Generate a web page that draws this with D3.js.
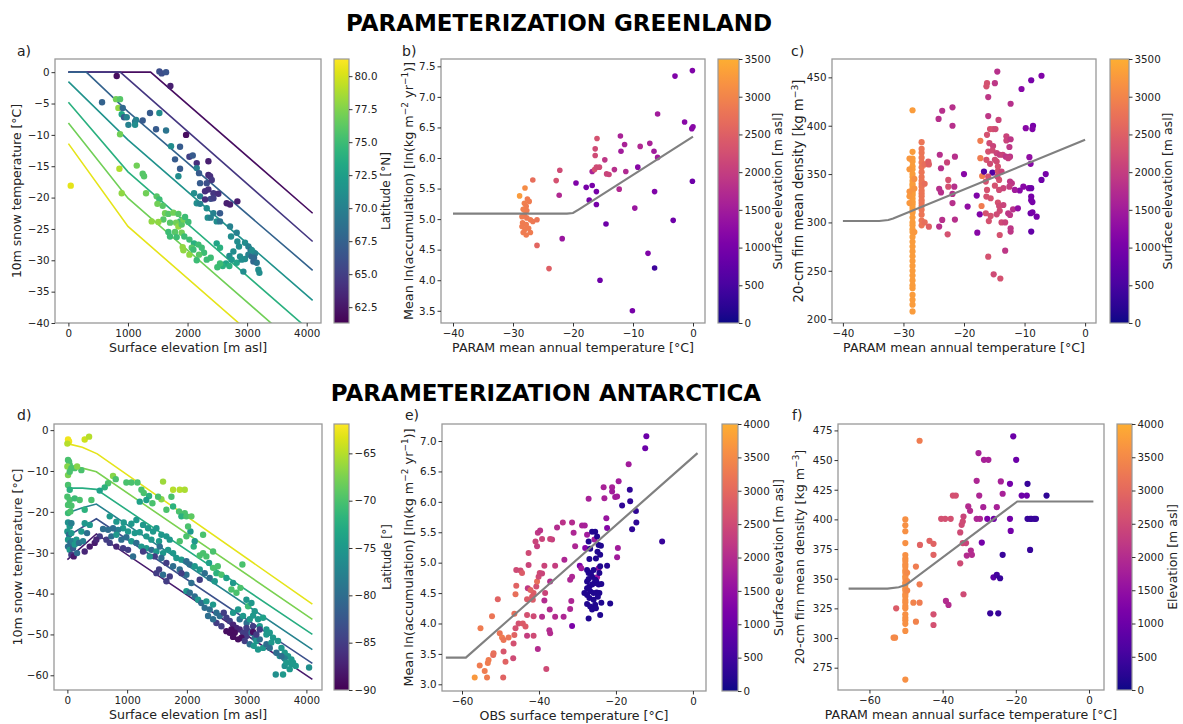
<!DOCTYPE html>
<html>
<head>
<meta charset="utf-8">
<script src="https://cdn.jsdelivr.net/npm/d3@7"></script>
<style>
body { margin: 0; background: #fff; }
text { font-family: "DejaVu Sans", sans-serif; fill: #222; }
</style>
</head>
<body>
<svg id="fig" width="1183" height="724"></svg>
<script>
// ---------- data ----------
// a) Greenland: [elevation m, 10m temperature C, latitude N]
var grTempPts = [
  [1527,0.1,66],[1566,-0.2,66],[1639,0,66.5],[1712,-2.2,63],[811,-0.6,62],
  [565,-4.8,67.5],[800,-4.3,77],[867,-4.3,76],[839,-5.7,78],[912,-5.7,68],
  [895,-6.7,73],[934,-7.2,67],[979,-7.2,70],[1007,-8.4,70],[1119,-7.9,69],[1136,-7.6,70],[1247,-7.7,67],[1119,-8.4,71],
  [867,-9.9,77],
  [1370,-6.5,67],[1527,-6.5,71],[1471,-9.1,67],[1639,-9.3,69],[1723,-11.8,71],[1874,-11.9,67],[1790,-13.9,67],[1874,-15.4,67],[1846,-16.6,71],
  [1975,-10,62],
  [2031,-13.5,65],[2087,-13.3,67],[2154,-14.5,64],[2350,-14.2,63],[2154,-15.3,70],[2193,-16.1,67],[2350,-16.4,63.5],[2378,-16.6,64],[2210,-17.7,67],[2322,-17.7,66],[2406,-17.2,64.5],
  [2109,-19.3,71],[2294,-19,64],[2350,-18.7,64],[2434,-19.3,64.5],[2517,-19.4,64],[2210,-19.8,70],[2389,-20.2,66],[2294,-20.3,64],[2154,-20.9,71],[2210,-21,70],[2434,-20.1,65],
  [2657,-20.9,63],[2713,-21.1,63],[2836,-20.6,63],
  [2322,-21.7,71],[2434,-22.5,70],[2545,-22.5,67],[2339,-23.2,71],[2389,-23.2,70],[2489,-23.8,71],[2545,-23.8,69],
  [2713,-24.6,70],[2825,-25.6,70],[2730,-26.2,71],[2836,-27,71],[2965,-27.2,71],[3021,-27.8,70],[3060,-28.4,68],[2864,-27.8,71],[2769,-28.6,71],[2702,-29.3,71],
  [2881,-29.4,71],[2965,-29.8,71],[3021,-29.1,70],[3077,-29.4,68],[3105,-30.2,68],[3161,-30.4,69],[3189,-31.5,71],[3206,-32,71],[3133,-28.9,70],[3116,-29.6,68],[3077,-28.4,71],
  [2741,-29.9,72],[2825,-30.4,73],[2909,-29.9,71],[2937,-31.8,71],[2646,-30.5,73],[2590,-30.9,74],[2545,-30.5,75],[2500,-31.1,75],[2702,-30.9,74],
  [2489,-27.3,73],[2545,-28,74],[2389,-29.6,75],[2277,-28.8,75],[2193,-29.1,76],
  [1303,-19.3,77],[1482,-19.8,76],[1527,-20.3,75],[1583,-21.3,76],[1494,-21,77],[1622,-22.5,77],[1678,-22.6,76],[1762,-22.4,77],[1846,-22.6,76],[1874,-23.8,75],
  [1807,-24,77],[1706,-24,76],[1846,-24.6,78],[1902,-24.3,76],[1930,-23.5,77],[1958,-23.1,75],[2014,-23.9,75],[1790,-25.5,76],[1902,-25.6,77],[1678,-25.5,75],
  [1946,-26.2,75],[1818,-26.3,75],[2031,-26.7,75],[2109,-27.3,74],[2182,-27.5,75],[2070,-28,76],[1918,-27.9,78],[1930,-28.4,78],[2031,-29.1,78],[2098,-28.3,75],
  [2238,-28,75],[2154,-30,75],[2322,-29.9,75],[1706,-26.2,75],[1594,-23.5,76],[1398,-23.8,78],[1510,-23.9,78],
  [1147,-14.9,77],[1247,-16.2,76],[1270,-16.6,76],
  [856,-15.4,79],[895,-19.3,78],
  [39,-18.1,80.5]
];
// a) parameterisation curves, one per latitude: [elevation, temperature]
var grTempLineLats = [62, 64.5, 67.5, 71.5, 74, 77, 80.5];
var grTempLines = [
  [[0,0],[1380,0],[4100,-22.5]],
  [[0,0],[870,0],[4100,-27]],
  [[0,0],[300,0],[1000,-6.3],[4100,-31.6]],
  [[0,-1.5],[1000,-10.8],[4100,-36.4]],
  [[0,-4.8],[1000,-15.9],[4100,-41.6]],
  [[0,-8.1],[1000,-20.1],[4100,-45.8]],
  [[0,-11.4],[1000,-24.6],[4100,-50.3]]
];

// b) Greenland: [PARAM temperature C, ln(accumulation), elevation m]
var grAccPts = [
  [-28.9,5.38,3300],[-28.0,5.51,3100],[-26.7,5.64,2700],
  [-27.6,5.33,2900],[-27.3,5.29,2900],[-28.1,5.26,2950],[-27.8,5.21,2900],[-28.3,5.16,2950],[-27.7,5.14,2900],[-28.1,5.07,2900],[-28.5,5.04,2900],
  [-27.7,5.02,2850],[-27.1,4.99,2900],[-26.7,4.96,2850],[-26.0,4.99,2800],[-28.4,4.94,2900],[-27.8,4.91,2900],[-28.5,4.88,2900],[-28.0,4.83,2900],
  [-27.4,4.85,2900],[-28.3,4.78,2900],[-27.8,4.74,2900],[-27.1,4.78,2900],
  [-26.0,4.57,2600],[-24.0,4.19,2500],[-22.8,5.63,2300],[-22.2,5.80,2200],[-22.3,5.39,1700],[-21.8,4.68,1400],[-19.5,5.59,1100],
  [-17.8,5.52,1000],[-17.3,5.31,1000],[-16.8,5.55,1000],[-16.8,5.78,1600],
  [-16.3,6.04,2200],[-16.3,6.15,2200],[-16.0,6.32,2300],[-16.4,5.81,2300],[-16.1,5.85,2200],[-15.6,5.85,2200],
  [-16.1,5.45,1000],[-16.1,5.24,1000],[-15.5,4.00,900],
  [-14.7,5.97,1900],[-14.4,5.74,2100],[-14.0,5.73,2100],[-14.5,4.92,900],[-13.1,5.81,1800],[-12.3,5.49,1700],
  [-12.1,6.36,1600],[-12.0,6.11,1500],[-11.4,6.22,1600],[-11.2,5.78,1700],
  [-10.1,3.50,1000],[-9.7,5.18,1400],[-9.2,5.85,1200],[-8.8,6.19,1700],[-7.5,4.44,1100],[-7.2,6.24,1600],
  [-6.4,5.45,1100],[-6.4,4.20,400],[-6.5,6.11,1500],[-5.9,6.72,1500],[-5.9,6.01,1500],
  [-3.3,4.98,900],[-3.0,7.34,1100],[-1.4,6.59,1200],[-0.1,7.43,1100],[-0.2,6.48,1200],[0,6.51,1200],[-0.1,5.62,900]
];
var grAccLine = [[-40,5.09],[-21,5.09],[-20,5.1],[-19,5.16],[0,6.35]];

// c) Greenland: [PARAM temperature C, 20-cm density, elevation m]
var grDensPts = [
  [-28.5,416,3300],[-28.5,373,3300],[-28.5,366,3300],[-28.5,363,3300],[-28.5,358,3300],[-28.5,355,3300],[-28.5,350,3300],[-28.5,347,3300],
  [-28.5,343,3300],[-28.5,340,3300],[-28.5,338,3300],[-28.5,335,3300],[-28.5,332,3300],[-28.5,330,3300],[-28.5,328,3300],[-28.5,325,3300],
  [-28.5,322,3300],[-28.5,320,3300],[-28.5,318,3300],[-28.5,315,3300],[-28.5,312,3300],[-28.5,310,3300],[-28.5,305,3300],[-28.5,300,3300],
  [-28.5,297,3300],[-28.5,293,3300],[-28.5,290,3300],[-28.5,285,3300],[-28.5,280,3300],[-28.5,275,3300],[-28.5,270,3300],[-28.5,265,3300],
  [-28.5,260,3300],[-28.5,255,3300],[-28.5,250,3300],[-28.5,245,3300],[-28.5,240,3300],[-28.5,235,3300],[-28.5,232,3300],[-28.5,225,3300],
  [-28.5,220,3300],[-28.5,215,3300],[-28.5,208,3300],
  [-29.0,366,3250],[-29.0,355,3250],[-29.0,332,3200],[-29.0,327,3250],[-29.0,320,3250],[-28.2,345,3150],[-28.2,335,3200],[-28.2,290,3250],
  [-27,383,2800],[-27,376,2800],[-27,372,2800],[-27,367,2800],[-27,362,2800],[-27,357,2800],[-27,352,2800],[-27,347,2800],[-27,343,2800],
  [-27,340,2800],[-27,337,2800],[-27,333,2800],[-27,330,2800],[-27,327,2800],[-27,323,2800],[-27,320,2800],[-27,317,2800],[-27,313,2800],
  [-27,308,2800],[-27,302,2800],[-27,297,2800],[-26.5,360,2700],[-26.5,340,2700],[-26.5,300,2700],
  [-25.9,363,2500],[-25.8,360,2500],[-25.8,295.6,2500],
  [-24.2,407,1800],[-23.6,415.5,1800],[-24,370,1800],[-23.8,356,1800],[-24.1,334.7,1800],[-23.8,331,1800],[-24.1,295.7,1800],[-23.6,302.6,1800],
  [-22.8,362,2100],[-22.6,337,2300],[-22.6,344,2300],[-22.7,287.7,2300],
  [-21.9,419,1800],[-21.9,400,1800],[-21.5,368,1800],[-21.6,337,1800],[-21.9,329.5,1800],[-21.9,320,1800],[-21.5,303,1800],
  [-20,350,1200],[-19.4,316.4,1300],[-17.9,327.8,1100],[-17.8,289.4,1200],[-17.4,308.4,1100],
  [-17.3,384.4,2900],[-17.3,366.4,2900],[-17.1,317,2900],[-17,348,2900],[-16.7,352.6,600],[-15.3,351.6,600],[-16,347.4,2300],
  [-16.2,444,2300],[-16.3,440.7,2300],[-14.5,456,1800],[-14.9,444,1900],[-16,429.6,1900],[-16,410,1900],[-14.3,406,2100],
  [-15.7,396.5,2300],[-15.2,396.5,2300],[-14.8,396.5,2200],[-16.2,390.6,2300],[-15.8,382,2200],[-15.2,379,2100],[-16,373.3,2300],
  [-15.3,374.4,2200],[-14.6,371.6,2100],[-14.1,370,2000],[-13.6,370,2100],[-13.1,368,1900],[-12.4,368,1900],[-12.7,366.4,2000],
  [-13,389,2100],[-13,384.7,2100],[-12.3,386,1900],[-12.3,422.7,1800],[-12.5,378,1900],[-14.6,363,2200],[-16.3,364.7,2300],
  [-15.7,360.6,2200],[-14.9,364.7,2200],[-14.4,357.8,2300],[-14.4,353,2300],[-13.8,352.6,2100],[-14.2,344,2300],[-14.5,347.4,2200],
  [-16.4,342.2,2300],[-14.9,338,2300],[-14.2,333.6,2200],[-13.5,335.4,2100],[-12.4,342.3,1900],[-12.1,340.5,1900],[-12.5,337,2000],
  [-16.2,333.6,2300],[-16.3,326.7,2300],[-15.6,325,2300],[-14.4,320.5,2300],[-14.2,317,2200],[-13.5,318,2100],[-16.4,309.5,2300],
  [-15.6,306.7,2300],[-14.6,308.4,2200],[-14.1,312,2200],[-12.7,309.5,1900],[-12.4,307.7,1900],[-11.9,313.6,1800],[-15.9,301.4,2300],
  [-13.8,300,2200],[-13.2,300,2100],[-12.3,294,1900],[-12.3,290.5,1900],[-14.1,287,2300],[-16,264.6,2300],[-15.1,246.3,2200],[-14,242,2300],[-13.2,270.8,1900],
  [-10.5,438,1200],[-9.8,397.5,1200],[-8.9,447,1000],[-8.6,400,1000],[-8.7,396.5,1100],[-7.2,451.7,1100],[-9.2,367.5,1300],[-9,360.6,1200],
  [-10.2,337,1200],[-9.3,335.4,1100],[-10.8,333,1200],[-8.9,335.4,900],[-8.9,326.7,1000],[-8.9,323,1000],[-8.7,321,1000],[-11.1,314.6,1300],
  [-9,309.5,900],[-8.7,310.5,1000],[-8,306,1000],[-8.9,290.5,800],[-7.2,344,900],[-6.5,350,1000],[-11.6,333.6,1500]
];
var grDensLine = [[-40,301.5],[-34,301.5],[-32.5,302.5],[-31.7,304],[0,385.4]];

// d) Antarctica: [elevation m, 10m temperature C, latitude]
var anTempPts = [
  [11,-2.3,-62.5],[28,-2.8,-62.5],[0,-3.3,-65],[290,-2.3,-64],[363,-1.6,-65],
  [11,-7.3,-70],[28,-7.7,-70],[39,-8.5,-70],[0,-8.9,-67],[67,-9.3,-70],[11,-11,-67.5],[39,-10.2,-70],[123,-9.3,-70],[234,-9.8,-70],[162,-8.9,-67],
  [11,-13.4,-70],[39,-14.6,-72],[0,-16.3,-70],[39,-17.1,-70],[11,-18.3,-70],[67,-18.5,-70],[11,-20.3,-71],[50,-19.9,-70],
  [11,-22.6,-76],[39,-23.6,-75],[67,-22.8,-78],[0,-24.8,-75],[28,-25.6,-80],[67,-25.2,-75],[11,-26.8,-75],[50,-27.6,-80],[84,-27.2,-78],
  [11,-28.5,-80],[39,-29.3,-75],[95,-28.9,-82],[123,-28,-75],[151,-26.8,-75],[195,-27.6,-80],[262,-27.2,-78],[67,-30.5,-85],[106,-30.9,-88],
  [162,-30.1,-80],[234,-24.8,-75],[290,-22.8,-75],[374,-23.2,-75],[329,-25.2,-80],
  [123,-16.7,-71],[206,-17.1,-70],[402,-17.1,-70],[290,-19.5,-72],
  [764,-11.2,-67],[809,-12,-70],[987,-12.8,-70],[1071,-12.8,-70],[1172,-12.8,-70],[681,-13,-70],[625,-14,-72],[541,-14.8,-74],
  [1239,-14.6,-70],[1278,-15.4,-70],[1367,-16.1,-72],[1322,-17.1,-74],[1211,-17.5,-74],[1423,-17.9,-70],[1573,-16.9,-67],[1601,-12.6,-66],
  [1769,-14.6,-65],[1880,-14.6,-65],[1964,-14.6,-65.5],[1741,-16.3,-70],[1518,-16.3,-70],
  [1657,-19.5,-70],[1769,-18.7,-72],[1869,-19.9,-70],[1964,-20.3,-70],[1908,-21.1,-72],[1992,-21.1,-70],[2075,-21.1,-69],[2059,-24.8,-75],
  [2020,-23.6,-70],[1992,-26,-70],[2114,-28.5,-72],[1880,-27.2,-70],[2131,-27.2,-75],[2215,-30.7,-70],[2271,-30.1,-70],[2326,-30.9,-70],
  [2371,-32.5,-74],[2438,-33.7,-70],[2517,-33.3,-70],[2494,-35,-72],[2578,-35.4,-70],[2661,-36.2,-74],[2773,-37.4,-75],[2745,-39,-70],
  [2829,-39.8,-70],[2896,-38.6,-70],[2929,-32.9,-70],[2996,-41.5,-75],[3024,-43.1,-71],[3080,-42.3,-75],[3135,-44.3,-75],[3108,-45.4,-75],
  [3191,-46.3,-75],[3275,-45.9,-74],[3219,-48,-75],[3331,-48.8,-75],[3387,-49.6,-75],[3442,-50.8,-75],[3526,-51.6,-75],[3582,-53.3,-75],
  [3637,-54.5,-75],[3693,-55.3,-75],[3749,-56.1,-75],[3777,-56.9,-75],[3554,-55.3,-76],[3637,-57.7,-76],[3487,-59.8,-76],[3721,-58.5,-75],
  [4045,-58.1,-76],[3637,-55.9,-78],[2271,-25.6,-70],[2438,-29.7,-70],
  [709,-21.1,-75],[820,-22.4,-75],[943,-22.6,-75],[1071,-22.9,-75],[1155,-22,-75],[1267,-23.2,-75],[1350,-24,-75],[1434,-24.8,-75],
  [1490,-24,-75],[1573,-25.6,-75],[1657,-26,-75],[1713,-26.8,-75],[1534,-27.2,-75],[1406,-26.8,-75],[1322,-26,-75],[1211,-25,-75],
  [1127,-25.2,-75],[1015,-24.8,-75],[932,-24,-75],[848,-24.4,-78],[764,-24,-80],[681,-24.4,-80],[597,-24.2,-80],[653,-26.8,-85],
  [736,-26,-80],[820,-25.6,-75],[904,-26.8,-80],[987,-26.2,-80],[1071,-27.2,-75],[1155,-27.6,-80],[1239,-28.5,-75],[1322,-28.9,-75],
  [1406,-29.3,-80],[1490,-29.7,-75],[1546,-28.5,-80],[1601,-30.1,-75],[1685,-29.3,-75],[1769,-30.1,-75],[1824,-31.3,-75],[1908,-31.7,-75],
  [1992,-32.1,-80],[2048,-32.9,-80],[2131,-33.3,-75],[2215,-34.1,-75],[2298,-35,-80],[2382,-36.2,-80],[2466,-37,-75],[2215,-36.6,-85],
  [2075,-37.4,-80],[1992,-35.4,-80],[1880,-34.1,-80],[1769,-33.3,-80],[1657,-32.5,-85],[1573,-31.3,-80],[1462,-30.9,-85],[1378,-30.9,-75],
  [1267,-29.7,-85],[1099,-30.9,-80],[1015,-29.3,-85],[932,-28.9,-85],[820,-28.5,-87],[709,-27.6,-85],[541,-26,-85],[457,-27.6,-88],
  [374,-28.5,-88],[290,-29.7,-87],[485,-26.8,-87],[1534,-34.1,-85],[1490,-35,-85],[1601,-35.4,-80],[1713,-35.8,-85],[1657,-37,-85],[1908,-35,-85],
  [1992,-39.4,-75],[2048,-39.8,-80],[2131,-40.7,-80],[2187,-41.5,-75],[2243,-42.3,-80],[2326,-41.9,-75],[2298,-43.5,-80],[2382,-43.9,-80],
  [2438,-42.7,-75],[2494,-44.7,-80],[2550,-45.5,-80],[2617,-44.7,-85],[2661,-45.9,-85],[2717,-46.7,-85],[2773,-47.6,-87],[2829,-48.4,-87],
  [2884,-48.8,-87],[2940,-49.6,-85],[2996,-50.4,-85],[2801,-49.6,-89],[2717,-49.6,-89],[2773,-50.6,-89],[2857,-51.2,-89],[2912,-50.8,-89],
  [2661,-49.2,-89],[2745,-48.8,-89],[2968,-51.6,-85],[2578,-48,-85],[2494,-47.2,-85],[2438,-46.3,-80],[2354,-45.5,-80],[3024,-49.2,-85],
  [3080,-49.6,-80],[3135,-50.8,-80],[3163,-51.6,-75],[3219,-51.2,-80],[3052,-52.4,-80],[3119,-52.8,-75],[3191,-53.7,-75],[3275,-53.3,-75],
  [3331,-52.4,-80],[3219,-48.8,-85],[3108,-48,-85],[3000,-47.2,-80],[2884,-46.3,-80],[2773,-44.7,-75],[2857,-43.9,-75],[2940,-45.5,-75],
  [3052,-46.3,-75],[2996,-48.4,-85],[3108,-49.4,-89],[3163,-50,-85],[3331,-50,-75],[3414,-52,-75],[3387,-53.3,-80],[3498,-54.5,-80],
  [3582,-55.3,-80],[3665,-56.9,-75],[3749,-57.3,-75],[3822,-57.7,-75],[3609,-59.8,-75]
];
var anTempLineLats = [-63, -67.5, -72.5, -77.5, -83, -88];
var anTempLines = [
  [[0,-3.3],[250,-4.2],[500,-5.8],[4100,-42.6]],
  [[0,-8.9],[250,-9.3],[485,-10.2],[4100,-46.3]],
  [[0,-14.2],[250,-14.2],[485,-14.5],[4100,-50]],
  [[0,-20.3],[250,-19],[485,-18.1],[4100,-53.7]],
  [[0,-26],[485,-21.7],[4100,-57.1]],
  [[0,-31.7],[485,-25.4],[4100,-61]]
];

// e) Antarctica: [OBS temperature C, ln(accumulation), elevation m]
var anAccPts = [
  [-56.7,3.11,3700],[-55.4,3.31,3300],[-55.2,3.92,3300],[-54.1,3.22,3300],[-53.5,3.11,3300],[-53.3,3.35,3300],[-53.1,3.40,3300],
  [-51.9,3.48,3000],[-51.8,3.51,3100],[-52.2,4.12,3200],[-50.7,4.40,2900],[-50.2,3.84,3200],[-49.6,3.77,3300],[-49.2,3.73,3200],
  [-49.3,3.11,2900],[-49.2,3.54,2700],[-48.7,3.37,2900],[-47.9,3.77,3200],[-46.7,3.43,2500],[-46.6,3.67,2600],[-46.4,3.81,2900],
  [-46.4,4.16,3100],[-46.1,3.92,2600],[-46.1,4.48,3100],[-45.9,4.62,2900],[-45.9,4.88,2500],[-44.8,4.87,2500],[-44.4,4.83,2800],
  [-45.3,4.00,2600],[-44.2,4.00,2800],[-43.5,3.95,2800],[-43.1,4.14,2600],[-43.1,3.80,2300],[-43.1,4.40,2800],[-42.9,4.58,2200],
  [-42.7,4.96,2400],[-42.7,5.16,2500],[-41.4,3.80,2500],[-41.4,4.12,2500],[-41.6,4.39,2800],[-41.4,4.50,2800],[-41.8,4.44,2800],
  [-42.2,4.55,2900],[-40.7,4.61,2600],[-40.5,4.69,3100],[-40.1,4.77,2500],[-39.8,4.83,2500],[-39.2,4.82,2400],[-38.6,4.95,2400],
  [-40.5,5.27,2300],[-40.3,5.49,2200],[-39.7,5.53,2100],[-39.2,5.39,2400],[-40.9,5.35,2400],[-40.3,3.58,2000],[-39.2,4.11,2000],
  [-38.6,4.38,2000],[-38.4,4.50,2400],[-37.1,4.69,2000],[-37.3,3.89,2000],[-37.1,3.84,2000],[-37.2,4.23,2000],[-38.1,3.25,2500],
  [-36.6,5.38,2300],[-37.1,5.39,2400],[-35.8,4.95,2300],[-35.8,4.11,2000],[-35.3,5.58,2000],[-33.8,5.66,2100],[-33.6,4.11,1900],
  [-33.4,5.05,1900],[-31.9,4.72,1900],[-31.9,4.24,1900],[-31.6,4.37,1900],[-31.4,5.66,2000],[-31,5.49,1900],[-31.4,4.77,1900],
  [-31.4,3.96,1200],[-30.6,5.27,1900],[-29.4,4.95,1200],[-29,4.91,1700],[-28.8,5.61,1800],[-28.1,5.61,1800],[-27.5,5.46,1700],
  [-28,5.24,1300],[-27.1,6.05,1800],[-25.6,5.38,1700],[-24.9,4.76,1600],[-24.5,4.91,1500],[-23.2,6.24,1800],[-23,6.06,1800],
  [-22.5,5.73,1600],[-22.3,5.57,1300],[-21,6.24,1800],[-21,6.17,1700],[-20.2,6.08,1700],[-19.7,6.09,1700],[-19.3,6.34,1700],
  [-19.5,5.24,1700],[-19.7,5.09,1700],[-16.7,6.62,1700],[-16.4,6.2,300],[-16.3,6.01,300],[-18.4,5.94,300],[-14.8,5.85,300],
  [-14.7,5.66,300],[-15.8,5.55,300],[-12.4,6.88,1000],[-12.1,7.08,1000],[-8.0,5.35,400],
  [-27.1,5.35,150],[-26.7,5.23,150],[-26.9,5.06,150],[-27.5,4.88,150],[-27.1,4.83,150],[-26.2,4.77,150],[-27.5,4.69,150],
  [-26.9,4.61,150],[-26.2,4.64,150],[-25.6,4.66,150],[-25.1,4.69,150],[-24.5,4.64,150],[-23.8,4.65,150],[-26.7,4.53,150],
  [-25.8,4.50,150],[-25,4.51,150],[-27.5,4.47,150],[-26.9,4.42,150],[-25.8,4.39,150],[-24.7,4.44,150],[-27.5,4.32,150],
  [-26.7,4.28,150],[-25.4,4.31,150],[-26.2,4.23,150],[-25.2,4.25,150],[-27.1,4.08,150],[-24.1,4.14,150],[-23.8,4.34,150],
  [-26.2,5.51,150],[-25.4,5.51,150],[-24.9,5.43,150],[-24.5,5.29,150],[-23.9,5.28,150],[-24.8,5.18,150],[-24.1,5.13,150],
  [-25.2,5.07,150],[-24.1,4.94,150],[-22.3,4.95,200],[-21.5,4.33,150],[-25.8,4.88,150],[-26.5,4.83,150],[-25.4,4.72,150],
  [-24.3,4.83,150],[-27.1,4.73,150],[-27.5,4.58,150],[-28.2,4.50,150],[-24.3,4.50,150]
];
var anAccLine = [[-64.2,3.44],[-59,3.44],[1.2,6.8]];

// f) Antarctica: [PARAM surface temperature C, 20-cm density, elevation m]
var anDensPts = [
  [-50.2,400,3600],[-50.2,395,3600],[-50.2,390,3600],[-50.2,380,3600],[-50.2,370,3600],[-50.2,367,3600],[-50.2,365,3600],[-50.2,362,3600],
  [-50.2,360,3600],[-50.2,357,3600],[-50.2,355,3600],[-50.2,352,3600],[-50.2,350,3600],[-50.2,347,3600],[-50.2,345,3600],[-50.2,342,3600],
  [-50.2,340,3600],[-50.2,337,3600],[-50.2,335,3600],[-50.2,332,3600],[-50.2,330,3600],[-50.2,327,3600],[-50.2,325,3600],[-50.2,320,3600],
  [-50.2,317,3600],[-50.2,315,3600],[-50.2,312,3600],[-50.2,306,3600],[-50.2,265,3600],[-49.7,355,3500],[-49.7,348,3500],[-49.7,340,3500],
  [-53.4,300.3,3500],[-53,300.3,3500],[-52.7,325,2800],
  [-46.3,466.3,3300],[-46.2,378.5,2900],[-46.3,345.3,3300],[-46.3,329.8,3300],[-48,329.8,3400],[-47.3,360.2,3300],[-47.3,313.8,3400],
  [-43.6,381.9,2900],[-42.5,379.4,2900],[-42.5,370.1,2900],[-42.5,320,2600],[-42.5,311,2600],
  [-40.4,400.5,2600],[-39.3,400.5,2600],[-37.8,400.5,2600],[-37.2,420.1,2600],[-36.4,420.1,2600],[-39.1,331.3,2000],[-38.4,327.9,2000],
  [-35.2,389,2500],[-34.8,395.4,2500],[-34.3,402.4,2400],[-34.5,398.2,2500],[-35.2,363,2500],[-34.5,380,2500],[-33.6,380,2400],
  [-34.3,336.9,2500],[-33.4,369.5,2000],[-33,410.9,2000],[-32.5,407.2,2000],[-32.3,373.7,2000],[-32,370.1,2000],
  [-30.7,432.5,1900],[-30,420.1,1900],[-30.7,400.5,1900],[-29.8,400.5,1900],[-30.2,455.9,1800],[-29.3,380.5,1100],[-28.9,410.3,1800],
  [-28.7,450.2,1800],[-27.5,450.2,1800],[-27.8,400.5,1200],[-26,400.5,1100],[-25.2,410.3,1800],[-26.1,351.2,800],[-25.2,353.2,500],
  [-27,320.8,400],[-24.8,320.8,400],[-24.3,350.4,400],[-24.1,432,1800],[-23.6,421.6,1800],[-23.6,370.1,400],
  [-21.6,430,1100],[-21.6,400.5,1100],[-21.4,390.3,1100],[-20.7,470,1000],[-19.9,450.2,1000],[-18.4,420.1,1000],[-17,420.1,1000],
  [-16.8,430,400],[-16.8,400.5,400],[-16.1,400.5,400],[-15.7,400.5,400],[-15,400.5,400],[-14.5,400.5,400],[-16.1,374.3,400],[-11.6,420.1,300]
];
var anDensLine = [[-65.7,341.7],[-55.1,341.7],[-52,342.8],[-50,344.8],[-19.6,415.1],[1.2,415.1]];

// ---------- drawing ----------
var svg = d3.select('#fig');
var defs = svg.append('defs');

var viridisA = d3.scaleSequential(d3.interpolateViridis).domain([61.3, 81.3]);
var viridisD = d3.scaleSequential(d3.interpolateViridis).domain([-90, -61.9]);
function plasmaCut(t) { return d3.interpolatePlasma(t * 0.82); }
var plasma3500 = d3.scaleSequential(plasmaCut).domain([0, 3500]);
var plasma4000 = d3.scaleSequential(plasmaCut).domain([0, 4000]);

function accLabel(t) {
  t.append('tspan').text('Mean ln(accumulation) [ln(kg m');
  t.append('tspan').attr('baseline-shift', 'super').attr('font-size', '70%').text('\u22122');
  t.append('tspan').text(' yr');
  t.append('tspan').attr('baseline-shift', 'super').attr('font-size', '70%').text('\u22121');
  t.append('tspan').text(')]');
}
function densLabel(t) {
  t.append('tspan').text('20-cm firn mean density [kg m');
  t.append('tspan').attr('baseline-shift', 'super').attr('font-size', '70%').text('\u22123');
  t.append('tspan').text(']');
}

var panels = [
  { id: 'a', box: [55, 321, 59, 323], xDom: [-225, 4240], yDom: [-40, 2.1],
    xTicks: [0, 1000, 2000, 3000, 4000], yTicks: d3.range(0, -41, -5), yFmt: d3.format('d'),
    pts: grTempPts, col: viridisA, r: 3.2, lines: grTempLines, lineLats: grTempLineLats,
    xLabel: 'Surface elevation [m asl]', yLabel: '10m snow temperature [\u00b0C]', yLabX: 21, yLabSize: 12.4,
    cb: { x0: 334, x1: 349, ticks: d3.range(62.5, 80.1, 2.5), fmt: d3.format('.1f'), label: 'Latitude [\u00b0N]', labX: 390, size: 12.1 },
    tag: 'a)', tagX: 17, tagY: 56 },
  { id: 'b', box: [441, 705, 59, 323], xDom: [-42, 2], yDom: [3.30, 7.62],
    xTicks: [-40, -30, -20, -10, 0], yTicks: d3.range(3.5, 7.51, 0.5), yFmt: d3.format('.1f'),
    pts: grAccPts, col: plasma3500, r: 2.8, gray: grAccLine,
    xLabel: 'PARAM mean annual temperature [\u00b0C]', yLabel: accLabel, yLabX: 413, yLabSize: 12.8,
    cb: { x0: 718, x1: 739, ticks: d3.range(0, 3501, 500), fmt: d3.format('d'), label: 'Surface elevation [m asl]', labX: 782, size: 12.5 },
    tag: 'b)', tagX: 402, tagY: 56 },
  { id: 'c', box: [832, 1096, 59, 323], xDom: [-41.8, 1.8], yDom: [196, 469],
    xTicks: [-40, -30, -20, -10, 0], yTicks: d3.range(200, 451, 50), yFmt: d3.format('d'),
    pts: grDensPts, col: plasma3500, r: 3.1, gray: grDensLine,
    xLabel: 'PARAM mean annual temperature [\u00b0C]', yLabel: densLabel, yLabX: 803, yLabSize: 13.2,
    cb: { x0: 1110, x1: 1129, ticks: d3.range(0, 3501, 500), fmt: d3.format('d'), label: 'Surface elevation [m asl]', labX: 1172, size: 12.5 },
    tag: 'c)', tagX: 791, tagY: 56 },
  { id: 'd', box: [54, 322, 424, 690], xDom: [-224, 4261], yDom: [-63.6, 1.5],
    xTicks: [0, 1000, 2000, 3000, 4000], yTicks: d3.range(0, -61, -10), yFmt: d3.format('d'),
    pts: anTempPts, col: viridisD, r: 3.2, lines: anTempLines, lineLats: anTempLineLats,
    xLabel: 'Surface elevation [m asl]', yLabel: '10m snow temperature [\u00b0C]', yLabX: 22, yLabSize: 12.6,
    cb: { x0: 334, x1: 349, ticks: d3.range(-90, -64, 5), fmt: d3.format('d'), label: 'Latitude [\u00b0]', labX: 391, size: 11.5 },
    tag: 'd)', tagX: 17, tagY: 420 },
  { id: 'e', box: [442, 706, 424, 691], xDom: [-65.2, 3.4], yDom: [2.89, 7.28],
    xTicks: [-60, -40, -20, 0], yTicks: d3.range(3, 7.01, 0.5), yFmt: d3.format('.1f'),
    pts: anAccPts, col: plasma4000, r: 3.0, gray: anAccLine,
    xLabel: 'OBS surface temperature [\u00b0C]', yLabel: accLabel, yLabX: 413, yLabSize: 12.8,
    cb: { x0: 722, x1: 738, ticks: d3.range(0, 4001, 500), fmt: d3.format('d'), label: 'Surface elevation [m asl]', labX: 783, size: 12.5 },
    tag: 'e)', tagX: 405, tagY: 420 },
  { id: 'f', box: [838, 1104, 424, 690], xDom: [-68.6, 4.1], yDom: [256.2, 480.4],
    xTicks: [-60, -40, -20, 0], yTicks: d3.range(275, 476, 25), yFmt: d3.format('d'),
    pts: anDensPts, col: plasma4000, r: 3.1, gray: anDensLine,
    xLabel: 'PARAM mean annual surface temperature [\u00b0C]', yLabel: densLabel, yLabX: 804, yLabSize: 12.7,
    cb: { x0: 1117, x1: 1132, ticks: d3.range(0, 4001, 500), fmt: d3.format('d'), label: 'Elevation [m asl]', labX: 1177, size: 12.5 },
    tag: 'f)', tagX: 792, tagY: 420 }
];

function styleAxis(ax) {
  ax.attr('font-size', null).attr('font-family', null).attr('color', '#333');
  ax.select('.domain').remove();
  ax.selectAll('text').style('font-size', '10.3px');
}

panels.forEach(function(p) {
  var x0 = p.box[0], x1 = p.box[1], y0 = p.box[2], y1 = p.box[3];
  var x = d3.scaleLinear().domain(p.xDom).range([x0, x1]);
  var y = d3.scaleLinear().domain(p.yDom).range([y1, y0]);
  var g = svg.append('g');

  defs.append('clipPath').attr('id', 'clip-' + p.id)
    .append('rect').attr('x', x0).attr('y', y0).attr('width', x1 - x0).attr('height', y1 - y0);
  var plot = g.append('g').attr('clip-path', 'url(#clip-' + p.id + ')');
  var line = d3.line().x(function(d) { return x(d[0]); }).y(function(d) { return y(d[1]); });

  if (p.lines) {
    plot.selectAll('path.lat').data(p.lines).enter().append('path')
      .attr('class', 'lat')
      .attr('d', line)
      .attr('fill', 'none')
      .attr('stroke', function(d, i) { return p.col(p.lineLats[i]); })
      .attr('stroke-width', 1.6);
  }

  plot.selectAll('circle').data(p.pts).enter().append('circle')
    .attr('cx', function(d) { return x(d[0]); })
    .attr('cy', function(d) { return y(d[1]); })
    .attr('r', p.r)
    .attr('fill', function(d) { return p.col(d[2]); });

  if (p.gray) {
    plot.append('path').datum(p.gray)
      .attr('d', line)
      .attr('fill', 'none')
      .attr('stroke', '#808080')
      .attr('stroke-width', 2.2);
  }

  g.append('rect').attr('x', x0).attr('y', y0).attr('width', x1 - x0).attr('height', y1 - y0)
    .attr('fill', 'none').attr('stroke', '#999').attr('stroke-width', 1.3);

  var ax = g.append('g').attr('transform', 'translate(0,' + y1 + ')')
    .call(d3.axisBottom(x).tickValues(p.xTicks).tickSize(3.5).tickPadding(3.5).tickFormat(d3.format('d')));
  styleAxis(ax);
  var ay = g.append('g').attr('transform', 'translate(' + x0 + ',0)')
    .call(d3.axisLeft(y).tickValues(p.yTicks).tickSize(3.5).tickPadding(2).tickFormat(p.yFmt));
  styleAxis(ay);

  g.append('text')
    .attr('x', (x0 + x1) / 2).attr('y', y1 + 29)
    .attr('text-anchor', 'middle').style('font-size', '12.6px')
    .text(p.xLabel);

  var yl = g.append('g').attr('transform', 'translate(' + p.yLabX + ',' + (y0 + y1) / 2 + ') rotate(-90)')
    .append('text').attr('text-anchor', 'middle').style('font-size', p.yLabSize + 'px');
  if (typeof p.yLabel === 'function') p.yLabel(yl); else yl.text(p.yLabel);

  // colorbar
  var cb = p.cb;
  var cdom = p.col.domain();
  var gid = 'grad-' + p.id;
  var grad = defs.append('linearGradient').attr('id', gid)
    .attr('x1', 0).attr('y1', 1).attr('x2', 0).attr('y2', 0);
  d3.range(0, 1.001, 0.05).forEach(function(t) {
    grad.append('stop').attr('offset', t).attr('stop-color', p.col(cdom[0] + t * (cdom[1] - cdom[0])));
  });
  g.append('rect').attr('x', cb.x0).attr('y', y0).attr('width', cb.x1 - cb.x0).attr('height', y1 - y0)
    .attr('fill', 'url(#' + gid + ')').attr('stroke', '#999').attr('stroke-width', 1.2);
  var cy = d3.scaleLinear().domain(cdom).range([y1, y0]);
  var acb = g.append('g').attr('transform', 'translate(' + cb.x1 + ',0)')
    .call(d3.axisRight(cy).tickValues(cb.ticks).tickSize(3.5).tickPadding(2).tickFormat(cb.fmt));
  styleAxis(acb);
  g.append('g').attr('transform', 'translate(' + cb.labX + ',' + (y0 + y1) / 2 + ') rotate(-90)')
    .append('text').attr('text-anchor', 'middle').style('font-size', cb.size + 'px')
    .text(cb.label);

  g.append('text').attr('x', p.tagX).attr('y', p.tagY)
    .style('font-size', '14px').text(p.tag);
});

svg.append('text').attr('x', 559).attr('y', 31).attr('text-anchor', 'middle')
  .style('font-size', '23px').style('font-weight', 'bold').style('fill', '#000')
  .text('PARAMETERIZATION GREENLAND');
svg.append('text').attr('x', 546).attr('y', 401).attr('text-anchor', 'middle')
  .style('font-size', '23px').style('font-weight', 'bold').style('fill', '#000')
  .text('PARAMETERIZATION ANTARCTICA');
</script>
</body>
</html>
